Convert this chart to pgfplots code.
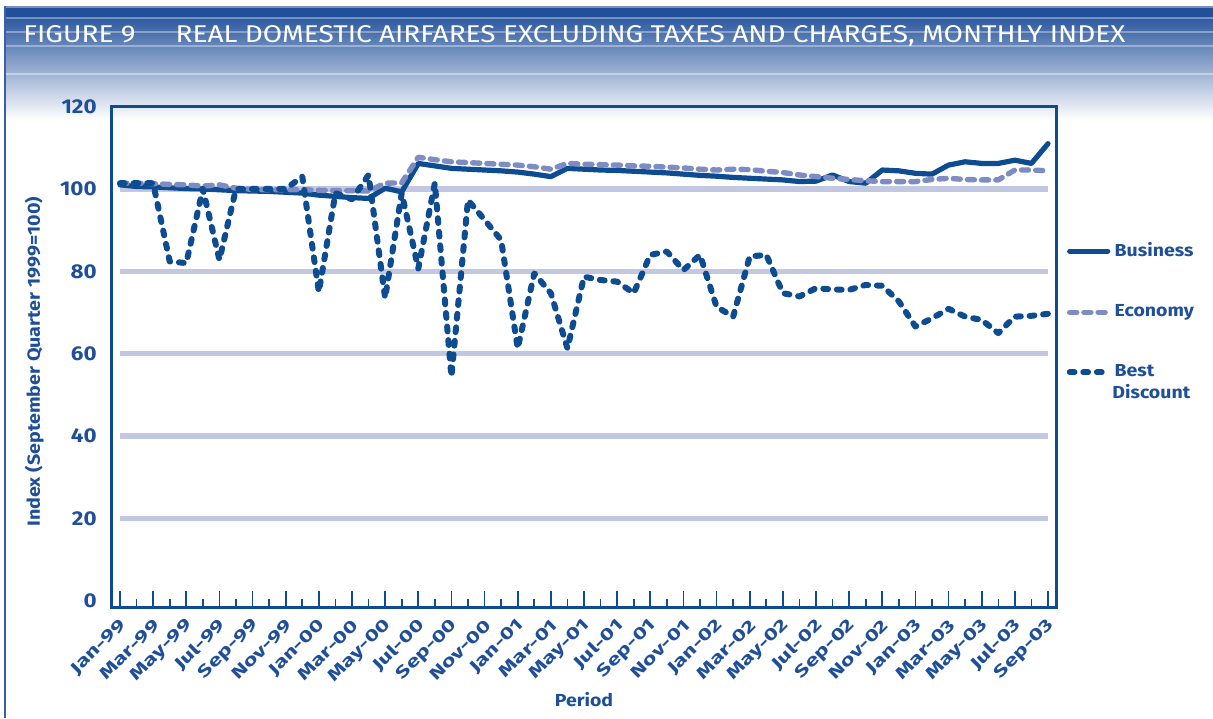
\documentclass[border=0pt]{standalone}
\usepackage{pgfplots}
\pgfplotsset{compat=1.18}
\usepackage{pgfplotstable}
\usepackage{fontspec}
\setmainfont{Fira Sans}[FakeStretch=1.12]
\newfontfamily\widefont{Fira Sans}[FakeStretch=1.4]
\usepackage{graphicx}

\definecolor{dark}{HTML}{0E4C92}
\definecolor{econ}{HTML}{7D8CC3}
\definecolor{gridc}{HTML}{C3C8E2}
\definecolor{txt}{HTML}{1F4F98}
\definecolor{band}{HTML}{21509A}
\definecolor{bandmid}{HTML}{8A9BCB}
\definecolor{edge}{HTML}{3D5FA8}

\pgfplotstableread{
i B E D
0 101.0 101.4 101.4
1 100.6 101.4 101.4
2 100.5 101.3 101.4
3 100.3 101.1 82.4
4 100.1 101.0 82.0
5 100.0 100.7 100.0
6 99.8 101.0 82.8
7 99.6 100.2 100.0
8 99.5 99.9 100.0
9 99.4 99.8 100.0
10 99.2 99.8 100.0
11 99.0 99.8 103.0
12 98.5 99.7 75.0
13 98.2 99.6 99.0
14 97.9 99.6 97.5
15 97.7 99.5 103.4
16 100.2 101.4 73.5
17 99.3 101.5 99.0
18 106.2 107.7 80.7
19 105.6 107.1 101.4
20 105.0 106.6 54.4
21 104.8 106.4 97.3
22 104.6 106.2 92.5
23 104.4 106.0 87.6
24 104.1 105.8 61.3
25 103.6 105.4 79.5
26 103.0 104.8 74.7
27 105.0 106.2 61.3
28 104.8 106.0 78.7
29 104.6 105.9 77.9
30 104.5 105.8 77.5
31 104.3 105.6 74.7
32 104.1 105.5 84.0
33 103.9 105.3 84.8
34 103.6 105.1 80.3
35 103.3 104.8 84.0
36 103.1 104.6 71.4
37 102.8 104.8 69.0
38 102.6 104.7 83.6
39 102.4 104.3 84.0
40 102.2 104.0 74.7
41 101.8 103.4 73.9
42 101.9 103.0 75.9
43 103.4 102.6 75.6
44 101.8 102.3 75.5
45 101.4 102.0 76.7
46 104.6 101.8 76.5
47 104.4 101.8 72.7
48 103.8 101.8 66.6
49 103.6 102.3 68.6
50 105.8 102.6 70.9
51 106.6 102.3 69.0
52 106.2 102.2 68.2
53 106.2 102.2 65.0
54 107.0 104.6 69.0
55 106.2 104.6 69.2
56 111.0 104.4 69.7
}\datatable

\begin{document}
\begin{tikzpicture}
\useasboundingbox (0,0) rectangle (606.5pt,359pt);
% banner
\fill[band] (2.5pt,355.5pt) rectangle (606.5pt,350pt);
\shade[top color=band!95!white, middle color=bandmid, bottom color=white] (2.5pt,350.2pt) rectangle (606.5pt,299pt);
\draw[white, opacity=0.35, line width=0.6pt] (2.5pt,350pt) -- (606.5pt,350pt);
\draw[white, opacity=0.35, line width=0.6pt] (2.5pt,343pt) -- (606.5pt,343pt);
\draw[white, opacity=0.35, line width=0.6pt] (2.5pt,336pt) -- (606.5pt,336pt);
\draw[white, opacity=0.4, line width=0.6pt] (2.5pt,322pt) -- (606.5pt,322pt);
\draw[econ, line width=0.8pt] (2.5pt,355.5pt) -- (606.5pt,355.5pt);
\draw[edge, line width=1pt] (2.5pt,355.9pt) -- (2.5pt,0pt);
\node[anchor=base west, inner sep=0pt, text=white] at (11.5pt,337.5pt)
  {\resizebox{551pt}{8.5pt}{FIGURE 9\hspace{1.6em}REAL DOMESTIC AIRFARES EXCLUDING TAXES AND CHARGES, MONTHLY INDEX}};

\begin{axis}[
  at={(55.85pt,55.5pt)}, anchor=south west,
  scale only axis, width=472.3pt, height=250.2pt,
  xmin=-0.5, xmax=56.5, ymin=-1.5, ymax=120,
  ytick={0,20,...,120},
  xtick={0,2,...,56},
  minor xtick={1,3,...,55},
  xticklabels={Jan-99,Mar-99,May-99,Jul-99,Sep-99,Nov-99,Jan-00,Mar-00,May-00,Jul-00,Sep-00,Nov-00,Jan-01,Mar-01,May-01,Jul-01,Sep-01,Nov-01,Jan-02,Mar-02,May-02,Jul-02,Sep-02,Nov-02,Jan-03,Mar-03,May-03,Jul-03,Sep-03},
  xtick pos=bottom,
  tick align=inside,
  major tick length=8pt, minor tick length=4pt,
  ytick style={draw=none},
  every tick/.style={dark, line width=0.8pt},
  axis line style={draw=dark, line width=1.5pt},
  /pgf/number format/assume math mode=true,
  yticklabel style={font=\bfseries\fontsize{10}{12}\selectfont, text=txt, xshift=-4pt},
  xticklabel style={font=\widefont\bfseries\fontsize{8.4}{10}\selectfont, text=txt, rotate=45, anchor=east, inner sep=1pt, xshift=-3.2pt, yshift=-6.7pt},
  xlabel={Period},
  ylabel={Index (September Quarter 1999=100)},
  every axis x label/.style={at={(axis description cs:0.5,-0.186)}, anchor=center, font=\bfseries\fontsize{8.7}{10}\selectfont, text=txt},
  every axis y label/.style={at={(axis description cs:-0.082,0.49)}, anchor=center, rotate=90, font=\bfseries\fontsize{8.8}{10}\selectfont, text=txt},
  legend style={at={(axis description cs:1,0.737)}, anchor=north west, xshift=5pt, draw=none, fill=none, inner sep=0pt, row sep=18.5pt, font=\bfseries\fontsize{8.7}{10}\selectfont, text=txt},
  legend cell align=left,
  legend image code/.code={\draw[#1] (0pt,0pt) -- (19pt,0pt);},
]
\addplot[gridc, line width=2.6pt, forget plot] coordinates {(0,20) (56,20)};
\addplot[gridc, line width=2.6pt, forget plot] coordinates {(0,40) (56,40)};
\addplot[gridc, line width=2.6pt, forget plot] coordinates {(0,60) (56,60)};
\addplot[gridc, line width=2.6pt, forget plot] coordinates {(0,80) (56,80)};
\addplot[gridc, line width=2.6pt, forget plot] coordinates {(0,100) (56,100)};
\addplot[dark, line width=2.6pt, line join=round, line cap=round] table[x=i, y=B] {\datatable};
\addlegendentry{Business}
\addplot[econ, line width=2.7pt, line join=round, line cap=round, dash pattern=on 3.5pt off 3.6pt] table[x=i, y=E] {\datatable};
\addlegendentry{Economy}
\addplot[dark, line width=3pt, line join=round, line cap=round, dash pattern=on 2.4pt off 4.4pt] table[x=i, y=D] {\datatable};
\addlegendentry{Best}
\end{axis}
\node[anchor=west, inner sep=0pt, text=txt, font=\bfseries\fontsize{8.7}{10}\selectfont] at (556pt,163pt) {Discount};
\end{tikzpicture}
\end{document}
